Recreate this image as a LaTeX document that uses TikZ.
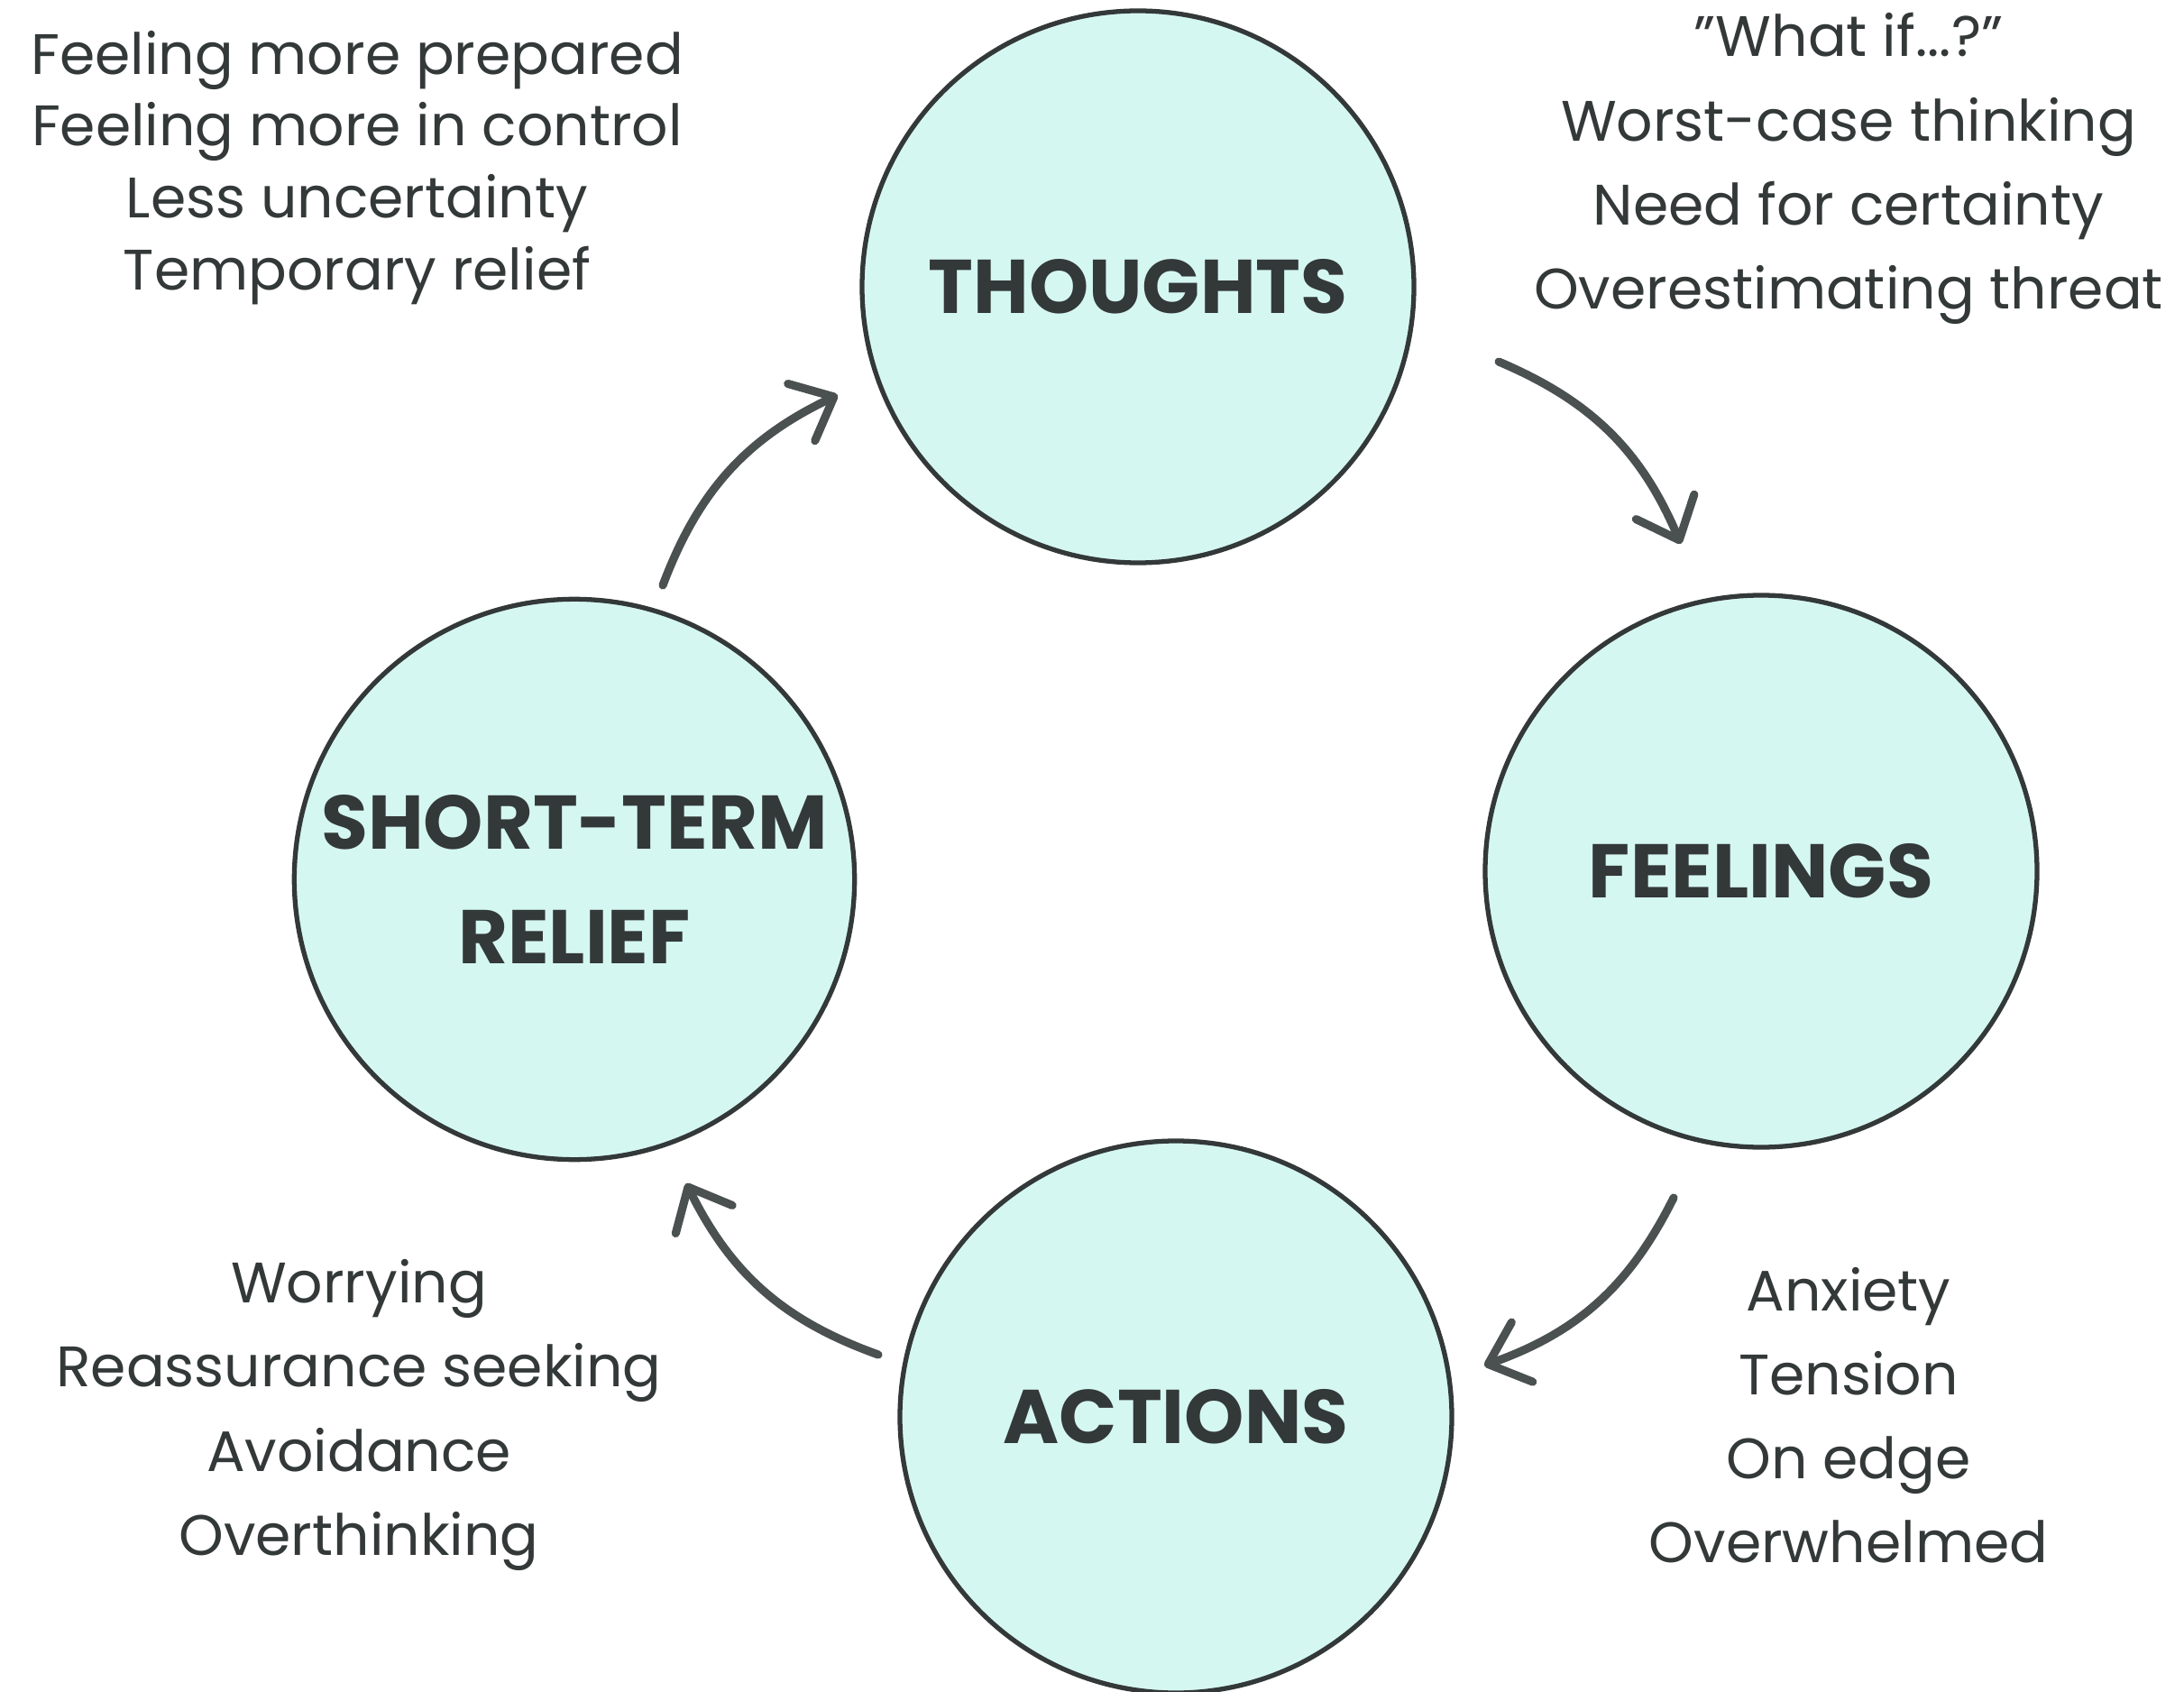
\documentclass[tikz,border=0pt]{standalone}
\usepackage{fontspec}
\setmainfont{Poppins}
\usetikzlibrary{arrows.meta}
\definecolor{circfill}{HTML}{D5F7F2}
\definecolor{ink}{HTML}{333838}
\definecolor{arrowgray}{HTML}{4A5150}
\begin{document}
\begin{tikzpicture}[
    stage/.style={draw=ink, line width=1.5pt, fill=circfill, circle, minimum size=6.12cm,
      align=center, text=ink, font=\fontsize{24}{36}\selectfont\bfseries},
    notes/.style={align=center, text=ink},
    cycle/.style={draw=arrowgray, line width=2.6pt, line cap=round,
      -{Straight Barb[length=4mm, width=7mm, line width=2.6pt, round]}}
  ]
  \useasboundingbox (0,0) rectangle (24.22,18.75);

  \node[stage] (thoughts) at (12.62,15.57) {THOUGHTS};
  \node[stage] (feelings) at (19.53,9.09) {FEELINGS};
  \node[stage] (actions) at (13.04,3.04) {ACTIONS};
  \node[stage] (relief) at (6.37,9.0) {SHORT-TERM\\RELIEF};

  \node[notes, font=\fontsize{18}{22.7}\selectfont] (gains) at (3.96,16.89)
    {Feeling more prepared\\Feeling more in control\\Less uncertainty\\Temporary relief};
  \node[notes, font=\fontsize{18}{26.5}\selectfont] (worries) at (20.5,16.88)
    {"What if...?"\\Worst-case thinking\\Need for certainty\\Overestimating threat};
  \node[notes, font=\fontsize{18}{26.5}\selectfont] (habits) at (3.98,3.06)
    {Worrying\\Reassurance seeking\\Avoidance\\Overthinking};
  \node[notes, font=\fontsize{18}{26.5}\selectfont] (moods) at (20.5,3.06)
    {Anxiety\\Tension\\On edge\\Overwhelmed};

  \coordinate (t-out) at (16.62,14.74);
  \coordinate (f-in) at (18.64,12.72);
  \coordinate (f-out) at (18.56,5.47);
  \coordinate (a-in) at (16.46,3.61);
  \coordinate (a-out) at (9.74,3.73);
  \coordinate (r-in) at (7.61,5.63);
  \coordinate (r-out) at (7.35,12.26);
  \coordinate (t-in) at (9.29,14.37);

  \draw[cycle] (t-out) to[bend left=22] (f-in);
  \draw[cycle] (f-out) to[bend left=22] (a-in);
  \draw[cycle] (a-out) to[bend left=22] (r-in);
  \draw[cycle] (r-out) to[bend left=22] (t-in);
\end{tikzpicture}
\end{document}
